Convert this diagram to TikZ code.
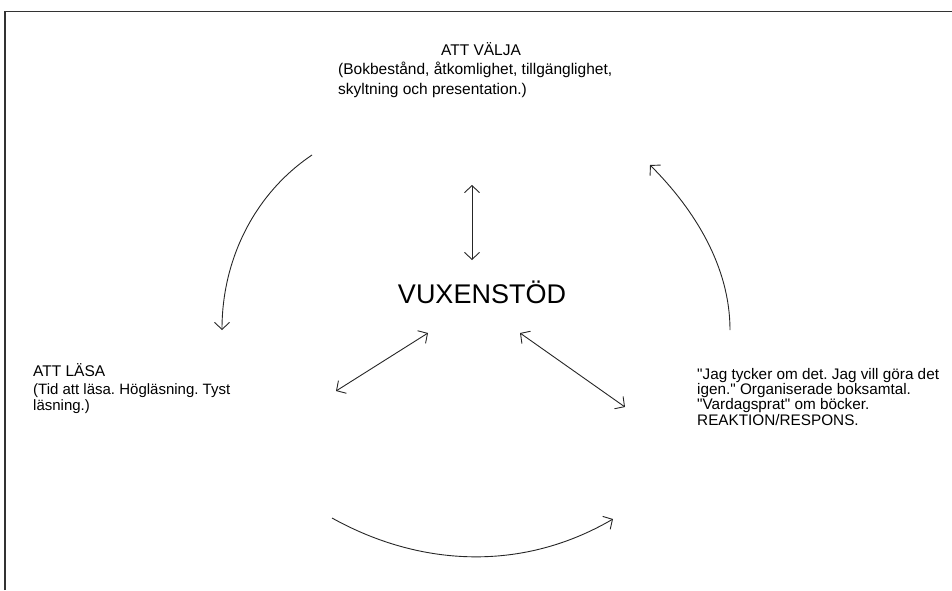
\documentclass[tikz,border=0pt]{standalone}
\usepackage{fontspec}
\setmainfont{Liberation Sans}[Ligatures=TeXOff]
\usetikzlibrary{arrows.meta}
\frenchspacing
\begin{document}
\begin{tikzpicture}[x=1pt,y=-1pt,
  conn/.style={line width=0.9pt, draw=black!85},
  tip/.style={-{Straight Barb[length=7pt,width=15pt]}},
  dtip/.style={{Straight Barb[length=7pt,width=15pt]}-{Straight Barb[length=7pt,width=15pt]}},
  lbl/.style={font=\fontsize{15.5}{19}\selectfont, inner sep=0pt, align=left, anchor=base west},
]
\useasboundingbox (0,0) rectangle (952,590);
\draw[line width=1.3pt, black!80] (5,590) -- (5,11.5) -- (952,11.5);

% texts (base anchor = baseline of the last line)
\node[lbl, anchor=base] (vtitle) at (481,55) {ATT VÄLJA};
\node[lbl, font=\fontsize{15.5}{20}\selectfont] (vbody) at (338,94.5) {(Bokbestånd, åtkomlighet, tillgänglighet,\\skyltning och presentation.)};
\node[lbl] (ltitle) at (33,376) {ATT LÄSA};
\node[lbl, font=\fontsize{15}{16}\selectfont] (lbody) at (33,410) {(Tid att läsa. Högläsning. Tyst\\läsning.)};
\node[lbl, font=\fontsize{15.3}{13.8}\selectfont] (resp) at (697,425) {"Jag tycker om det. Jag vill göra det\\igen." Organiserade boksamtal.\\"Vardagsprat" om böcker.\\REAKTION/RESPONS.};
\node[font=\fontsize{27}{30}\selectfont, inner sep=0pt, anchor=base] (vux) at (482,303) {VUXENSTÖD};

% end points
\coordinate (c1s) at (312,155); \coordinate (c1e) at (222,330);
\coordinate (c2s) at (730,330); \coordinate (c2e) at (650,165);
\coordinate (c3s) at (332,518); \coordinate (c3e) at (613,519);
\coordinate (vt) at (472,185); \coordinate (vb) at (472,260);
\coordinate (lt) at (428,333); \coordinate (lb) at (336,391);
\coordinate (rt) at (520,333); \coordinate (rb) at (625,407);

% cycle arrows
\draw[conn,tip] (c1s) .. controls (254,194) and (222,260) .. (c1e);
\draw[conn,tip] (c2s) .. controls (730,267) and (695,210) .. (c2e);
\draw[conn,tip] (c3s) .. controls (422,568) and (524,571) .. (c3e);

% double arrows with the centre
\draw[conn,dtip] (vt) -- (vb);
\draw[conn,dtip] (lt) -- (lb);
\draw[conn,dtip] (rt) -- (rb);
\end{tikzpicture}
\end{document}
